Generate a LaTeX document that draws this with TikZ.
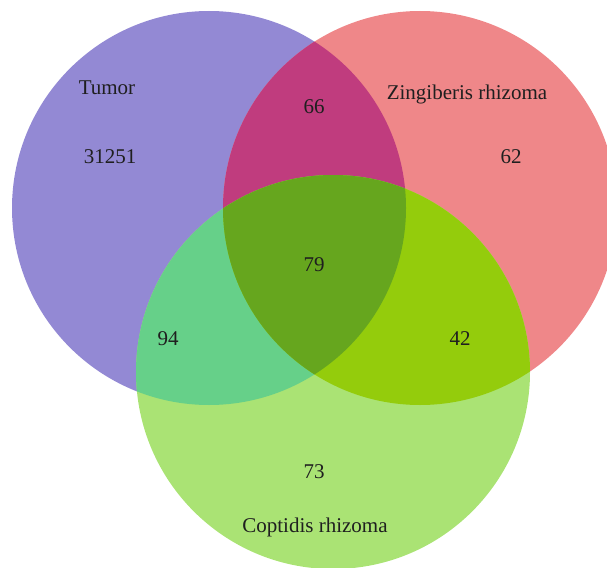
\documentclass[tikz,border=0pt]{standalone}
\usepackage{fontspec}
\setmainfont{Liberation Serif}
\definecolor{cpurple}{HTML}{9389D4}
\definecolor{cred}{HTML}{EF8789}
\definecolor{cgreen}{HTML}{AAE374}
\definecolor{cpr}{HTML}{C03C7E}
\definecolor{cpg}{HTML}{66D089}
\definecolor{crg}{HTML}{94CC0C}
\definecolor{cprg}{HTML}{66A61E}
\tikzset{
  lbl/.style={font=\fontsize{21}{24}\selectfont, text=black!88, inner sep=0pt},
}
\begin{document}
\begin{tikzpicture}[x=1pt,y=-1pt]
\useasboundingbox (0,0) rectangle (607,567);
\clip (0,0) rectangle (607,567);
\def\purplecirc{(209,208) circle[radius=197]}
\def\redcirc{(420,208) circle[radius=197]}
\def\greencirc{(333,372) circle[radius=197]}
\fill[cpurple] \purplecirc;
\fill[cred] \redcirc;
\fill[cgreen] \greencirc;
\begin{scope}
  \clip \purplecirc;
  \fill[cpr] \redcirc;
  \fill[cpg] \greencirc;
\end{scope}
\begin{scope}
  \clip \redcirc;
  \fill[crg] \greencirc;
\end{scope}
\begin{scope}
  \clip \purplecirc;
  \clip \redcirc;
  \fill[cprg] \greencirc;
\end{scope}
\node[lbl] (tumor) at (107,88) {Tumor};
\node[lbl] (zing) at (467,94) {Zingiberis rhizoma};
\node[lbl] (copt) at (315,527) {Coptidis rhizoma};
\node[lbl] (n1) at (110,157) {31251};
\node[lbl] (n2) at (314,107) {66};
\node[lbl] (n3) at (511,157) {62};
\node[lbl] (n4) at (314,265) {79};
\node[lbl] (n5) at (168,339) {94};
\node[lbl] (n6) at (460,339) {42};
\node[lbl] (n7) at (314,472) {73};
\end{tikzpicture}
\end{document}
